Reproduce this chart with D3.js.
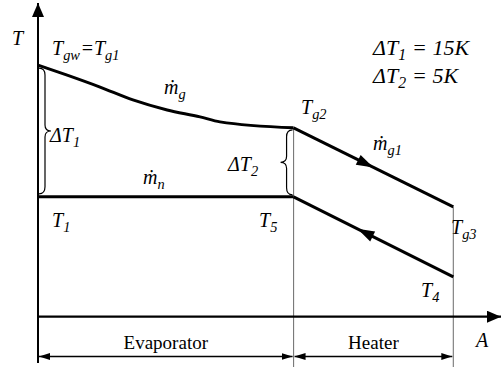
<!DOCTYPE html>
<html>
<head>
<meta charset="utf-8">
<script src="https://cdn.jsdelivr.net/npm/d3@7"></script>
<style>
  html, body { margin: 0; padding: 0; background: #fff; }
</style>
</head>
<body>
<svg id="chart" width="501" height="367"></svg>
<script>
// Heat-exchange area A (arbitrary units) and temperature T (arbitrary units)
const gasEvapA = [0, 6.3, 13.4, 20.5, 27.9, 35.0, 39.3, 55.2];
const gasEvapT = [80.2, 77.0, 73.2, 69.1, 65.9, 63.7, 62.1, 60.2];
const gasHeatA = [55.2, 89.7];
const gasHeatT = [60.2, 35.0];
const waterEvapA = [0, 55.2];
const waterEvapT = [38.2, 38.2];
const waterHeatA = [55.2, 89.7];
const waterHeatT = [38.2, 12.7];
const sections = ["Evaporator", "Heater"];
const sectionBounds = [0, 55.2, 89.7];
const deltaNotes = [["1", "15K"], ["2", "5K"]];

const serif = '"Liberation Serif", "Tinos", "Times New Roman", "FreeSerif", serif';
const svg = d3.select("#chart");
const x = d3.scaleLinear().domain([0, 100]).range([38, 501]);
const y = d3.scaleLinear().domain([0, 100]).range([316.7, 3]);

const defs = svg.append("defs");
function marker(id, len, wid) {
  defs.append("marker")
    .attr("id", id).attr("viewBox", `0 0 ${len} ${wid}`)
    .attr("refX", len).attr("refY", wid / 2)
    .attr("markerWidth", len).attr("markerHeight", wid)
    .attr("markerUnits", "userSpaceOnUse")
    .attr("orient", "auto-start-reverse")
    .append("path").attr("d", `M0,0 L${len},${wid / 2} L0,${wid} Z`).attr("fill", "#000");
}
marker("axisHead", 14, 12);
marker("dimHead", 11, 7);

const line = d3.line().x(d => x(d[0])).y(d => y(d[1]));
const zip = (a, b) => a.map((v, i) => [v, b[i]]);

// thin section boundaries
[sectionBounds[1], sectionBounds[2]].forEach((a, i) => {
  const top = i === 0 ? gasHeatT[0] : gasHeatT[1];
  svg.append("line")
    .attr("x1", x(a)).attr("x2", x(a))
    .attr("y1", y(top)).attr("y2", 367)
    .attr("stroke", "#777").attr("stroke-width", 1.1);
});

// axes
svg.append("line").attr("x1", x(0)).attr("x2", x(0))
  .attr("y1", 363).attr("y2", 3)
  .attr("stroke", "#000").attr("stroke-width", 2)
  .attr("marker-end", "url(#axisHead)");
svg.append("line").attr("x1", x(0)).attr("x2", 501)
  .attr("y1", y(0)).attr("y2", y(0))
  .attr("stroke", "#000").attr("stroke-width", 2.2)
  .attr("marker-end", "url(#axisHead)");

// temperature profiles
const lw = 3;
svg.append("path").datum(zip(gasEvapA, gasEvapT))
  .attr("d", line.curve(d3.curveMonotoneX)).attr("fill", "none")
  .attr("stroke", "#000").attr("stroke-width", lw);
line.curve(d3.curveLinear);
[zip(gasHeatA, gasHeatT), zip(waterEvapA, waterEvapT), zip(waterHeatA, waterHeatT)]
  .forEach(pts => svg.append("path").datum(pts).attr("d", line)
    .attr("fill", "none").attr("stroke", "#000").attr("stroke-width", lw));

// flow direction arrows on the heater lines
function flowArrow(a0, t0, a1, t1, frac) {
  const px0 = x(a0), py0 = y(t0), px1 = x(a1), py1 = y(t1);
  const tx = px0 + (px1 - px0) * frac, ty = py0 + (py1 - py0) * frac;
  const ang = Math.atan2(py1 - py0, px1 - px0) * 180 / Math.PI;
  svg.append("path")
    .attr("d", "M0,0 L-17,-5.5 L-17,5.5 Z")
    .attr("transform", `translate(${tx},${ty}) rotate(${ang})`)
    .attr("fill", "#000");
}
flowArrow(gasHeatA[0], gasHeatT[0], gasHeatA[1], gasHeatT[1], 0.5);
flowArrow(waterHeatA[1], waterHeatT[1], waterHeatA[0], waterHeatT[0], 0.6);

// braces marking the temperature differences
function brace(xEdge, xMid, xTip, y1, y2) {
  const ym = (y1 + y2) / 2;
  const p = d3.path();
  p.moveTo(xEdge, y1);
  p.quadraticCurveTo(xMid, y1, xMid, y1 + 7);
  p.lineTo(xMid, ym - 6);
  p.quadraticCurveTo(xMid, ym, xTip, ym);
  p.quadraticCurveTo(xMid, ym, xMid, ym + 6);
  p.lineTo(xMid, y2 - 7);
  p.quadraticCurveTo(xMid, y2, xEdge, y2);
  svg.append("path").attr("d", p.toString()).attr("fill", "none")
    .attr("stroke", "#000").attr("stroke-width", 1.2);
}
brace(x(0) + 1, x(0) + 7, x(0) + 13, y(gasEvapT[0]) + 3, y(waterEvapT[0]) - 3);
brace(x(sectionBounds[1]) - 1, x(sectionBounds[1]) - 7, x(sectionBounds[1]) - 13,
      y(gasHeatT[0]) + 2, y(waterEvapT[0]) - 2);

// math labels, each piece its own text element: parts = [[text, "sub"|null], ...]
function label(px, py, parts, size = 20) {
  let cx = px;
  parts.forEach(([s, kind]) => {
    const sub = kind === "sub";
    const t = svg.append("text")
      .attr("x", cx).attr("y", sub ? py + 5 : py)
      .attr("font-size", sub ? size * 0.72 : size)
      .style("font-family", serif)
      .style("font-style", "italic")
      .style("white-space", "pre")
      .text(s);
    cx += t.node().getComputedTextLength() + (sub ? 0.5 : 0);
  });
}
label(12, 45, [["T"]]);
label(52, 55, [["T"], ["gw", "sub"], ["="], ["T"], ["g1", "sub"]]);
label(164, 94, [["ṁ"], ["g", "sub"]]);
label(50, 142, [["ΔT"], ["1", "sub"]]);
label(143, 184, [["ṁ"], ["n", "sub"]]);
label(228, 171, [["ΔT"], ["2", "sub"]]);
label(301, 114, [["T"], ["g2", "sub"]]);
label(373, 150, [["ṁ"], ["g1", "sub"]]);
label(451, 234, [["T"], ["g3", "sub"]]);
label(52, 227, [["T"], ["1", "sub"]]);
label(259, 227, [["T"], ["5", "sub"]]);
label(421, 297, [["T"], ["4", "sub"]]);
label(476, 347, [["A"]]);
deltaNotes.forEach(([k, v], i) => {
  label(373, 55 + i * 28, [["ΔT"], [k, "sub"], ["\u00a0=\u00a0" + v]], 22);
});

// section dimension lines
sections.forEach((name, i) => {
  const a0 = x(sectionBounds[i]), a1 = x(sectionBounds[i + 1]);
  svg.append("line").attr("x1", a0 + 1).attr("x2", a1 - 1)
    .attr("y1", 356.5).attr("y2", 356.5)
    .attr("stroke", "#000").attr("stroke-width", 1.3)
    .attr("marker-start", "url(#dimHead)").attr("marker-end", "url(#dimHead)");
  svg.append("text").attr("x", (a0 + a1) / 2).attr("y", 349)
    .attr("font-size", 19)
    .style("font-family", serif)
    .attr("text-anchor", "middle").text(name);
});
</script>
</body>
</html>
